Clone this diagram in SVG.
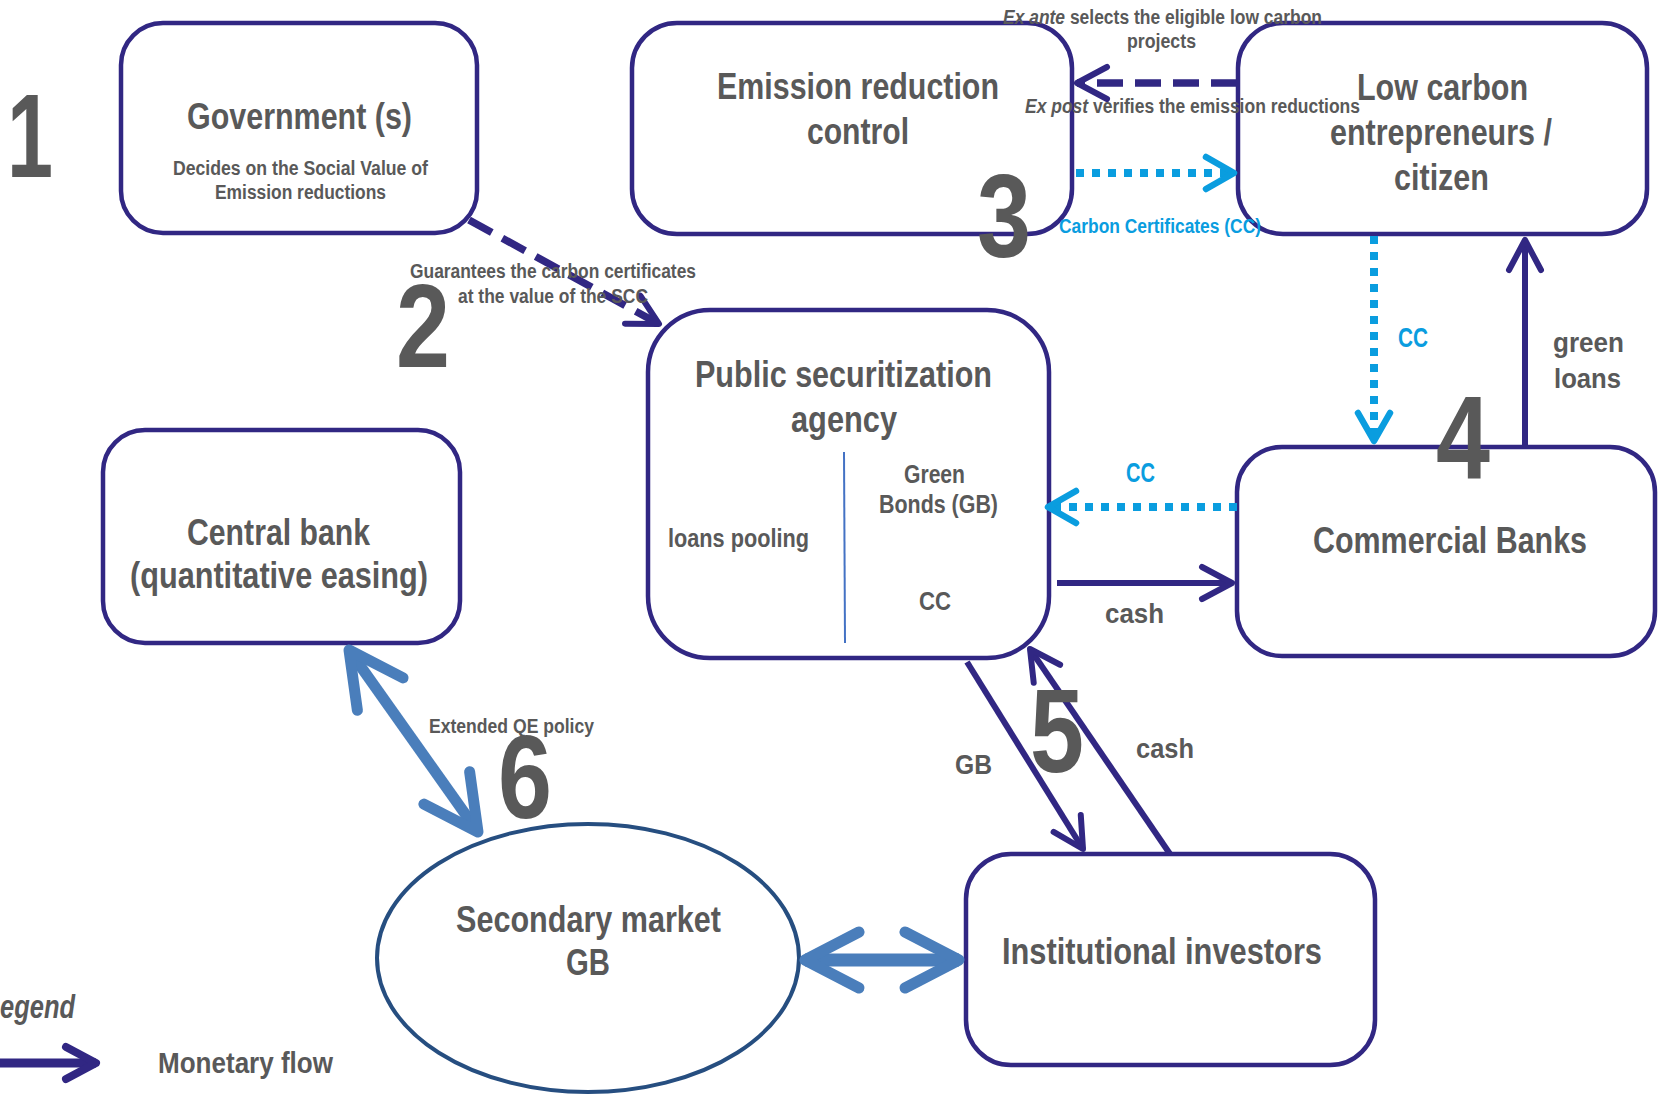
<svg xmlns="http://www.w3.org/2000/svg" width="1658" height="1095" viewBox="0 0 1658 1095">
<style>
.box{fill:#fff;stroke:#312783;stroke-width:4.5}
.t{font-family:'Liberation Sans Narrow','Liberation Sans',Arial,sans-serif;font-weight:bold;fill:#595959}
.h{font-size:36px}
.s{font-size:20px}
.m{font-size:27px}
.b{fill:#0A9DDF}
.num{font-size:119px}
.navy{fill:none;stroke:#312783;stroke-width:6}
.dash{stroke-width:7.5;stroke-dasharray:26 12}
.dot{fill:none;stroke:#0A9DDF;stroke-width:8;stroke-dasharray:8 8}
.steel{fill:none;stroke:#4A7EBB}
</style>
<defs>
<marker id="ahNavy" markerUnits="userSpaceOnUse" viewBox="-40 -25 50 50" markerWidth="50" markerHeight="50" refX="0" refY="0" orient="auto" overflow="visible">
<path d="M-30,-16 L0,0 L-30,16" fill="none" stroke="#312783" stroke-width="6" stroke-linecap="round" stroke-linejoin="round"/>
</marker>
<marker id="ahBlue" markerUnits="userSpaceOnUse" viewBox="-40 -25 50 50" markerWidth="50" markerHeight="50" refX="0" refY="0" orient="auto" overflow="visible">
<path d="M-28,-16 L0,0 L-28,16" fill="none" stroke="#0A9DDF" stroke-width="6.5" stroke-linecap="round" stroke-linejoin="round"/>
</marker>
<marker id="ahSteel" markerUnits="userSpaceOnUse" viewBox="-70 -40 80 80" markerWidth="80" markerHeight="80" refX="0" refY="0" orient="auto-start-reverse" overflow="visible">
<path d="M-54,-28 L0,0 L-54,28" fill="none" stroke="#4A7EBB" stroke-width="11" stroke-linecap="round" stroke-linejoin="round"/>
</marker>
<marker id="ahLegend" markerUnits="userSpaceOnUse" viewBox="-40 -25 50 50" markerWidth="50" markerHeight="50" refX="0" refY="0" orient="auto" overflow="visible">
<path d="M-30,-16 L0,0 L-30,16" fill="none" stroke="#312783" stroke-width="8" stroke-linecap="round" stroke-linejoin="round"/>
</marker>
</defs>

<g id="government">
<rect class="box" x="121" y="23" width="356" height="210" rx="42"/>
<text class="t h" x="187" y="129" textLength="225" lengthAdjust="spacingAndGlyphs">Government (s)</text>
<text class="t s" x="173" y="175" textLength="255" lengthAdjust="spacingAndGlyphs">Decides on the Social Value of</text>
<text class="t s" x="215" y="199" textLength="171" lengthAdjust="spacingAndGlyphs">Emission reductions</text>
</g>

<g id="emission-control">
<rect class="box" x="632" y="23" width="440" height="211" rx="45"/>
<text class="t h" x="717" y="99" textLength="282" lengthAdjust="spacingAndGlyphs">Emission reduction</text>
<text class="t h" x="807" y="144" textLength="102" lengthAdjust="spacingAndGlyphs">control</text>
</g>

<g id="low-carbon">
<rect class="box" x="1238" y="23" width="409" height="211" rx="45"/>
<text class="t h" x="1357" y="100" textLength="171" lengthAdjust="spacingAndGlyphs">Low carbon</text>
<text class="t h" x="1330" y="145" textLength="222" lengthAdjust="spacingAndGlyphs">entrepreneurs /</text>
<text class="t h" x="1394" y="190" textLength="95" lengthAdjust="spacingAndGlyphs">citizen</text>
</g>

<g id="psa">
<rect class="box" x="648" y="310" width="401" height="348" rx="62"/>
<line x1="844" y1="452" x2="845" y2="643" stroke="#4472C4" stroke-width="2"/>
<text class="t h" x="695" y="387" textLength="297" lengthAdjust="spacingAndGlyphs">Public securitization</text>
<text class="t h" x="791" y="432" textLength="106" lengthAdjust="spacingAndGlyphs">agency</text>
<text class="t" font-size="26" x="668" y="547" textLength="141" lengthAdjust="spacingAndGlyphs">loans pooling</text>
<text class="t" font-size="26" x="904" y="483" textLength="61" lengthAdjust="spacingAndGlyphs">Green</text>
<text class="t" font-size="26" x="879" y="513" textLength="119" lengthAdjust="spacingAndGlyphs">Bonds (GB)</text>
<text class="t" font-size="26" x="919" y="610" textLength="32" lengthAdjust="spacingAndGlyphs">CC</text>
</g>

<g id="commercial-banks">
<rect class="box" x="1237" y="447" width="418" height="209" rx="45"/>
<text class="t" font-size="37" x="1313" y="553" textLength="274" lengthAdjust="spacingAndGlyphs">Commercial Banks</text>
</g>

<g id="central-bank">
<rect class="box" x="103" y="430" width="357" height="213" rx="42"/>
<text class="t h" x="187" y="545" textLength="183" lengthAdjust="spacingAndGlyphs">Central bank</text>
<text class="t h" x="130" y="588" textLength="298" lengthAdjust="spacingAndGlyphs">(quantitative easing)</text>
</g>

<g id="secondary-market">
<ellipse cx="588" cy="958" rx="211" ry="134" fill="#fff" stroke="#264E80" stroke-width="4"/>
<text class="t h" x="456" y="932" textLength="265" lengthAdjust="spacingAndGlyphs">Secondary market</text>
<text class="t h" x="566" y="975" textLength="44" lengthAdjust="spacingAndGlyphs">GB</text>
</g>

<g id="institutional-investors">
<rect class="box" x="966" y="854" width="409" height="211" rx="45"/>
<text class="t h" x="1002" y="964" textLength="320" lengthAdjust="spacingAndGlyphs">Institutional investors</text>
</g>

<g id="connectors">
<line class="navy dash" x1="469" y1="220" x2="659" y2="324" marker-end="url(#ahNavy)"/>
<line class="navy dash" x1="1237" y1="83" x2="1077" y2="83" marker-end="url(#ahNavy)"/>
<line class="dot" x1="1076" y1="173" x2="1234" y2="173" marker-end="url(#ahBlue)"/>
<line class="dot" x1="1374" y1="236" x2="1374" y2="441" marker-end="url(#ahBlue)"/>
<line class="navy" x1="1525" y1="447" x2="1525" y2="240" marker-end="url(#ahNavy)"/>
<line class="dot" x1="1237" y1="507" x2="1048" y2="507" marker-end="url(#ahBlue)"/>
<line class="navy" x1="1057" y1="583" x2="1232" y2="583" marker-end="url(#ahNavy)"/>
<line class="navy" x1="967" y1="662" x2="1083" y2="849" marker-end="url(#ahNavy)"/>
<line class="navy" x1="1170" y1="854" x2="1030" y2="649" marker-end="url(#ahNavy)"/>
<line class="steel" stroke-width="11" x1="349" y1="650" x2="478" y2="832" marker-start="url(#ahSteel)" marker-end="url(#ahSteel)"/>
<line class="steel" stroke-width="13" x1="805" y1="960" x2="959" y2="960" marker-start="url(#ahSteel)" marker-end="url(#ahSteel)"/>
</g>

<g id="labels">
<text class="t s" x="410" y="278" textLength="286" lengthAdjust="spacingAndGlyphs">Guarantees the carbon certificates</text>
<text class="t s" x="458" y="303" textLength="190" lengthAdjust="spacingAndGlyphs">at the value of the SCC</text>
<text class="t s" x="1003" y="24" textLength="319" lengthAdjust="spacingAndGlyphs"><tspan font-style="italic">Ex ante</tspan> selects the eligible low carbon</text>
<text class="t s" x="1127" y="48" textLength="69" lengthAdjust="spacingAndGlyphs">projects</text>
<text class="t s" x="1025" y="113" textLength="335" lengthAdjust="spacingAndGlyphs"><tspan font-style="italic">Ex post</tspan> verifies the emission reductions</text>
<text class="t s b" x="1059" y="233" textLength="202" lengthAdjust="spacingAndGlyphs">Carbon Certificates (CC)</text>
<text class="t m b" x="1398" y="347" textLength="30" lengthAdjust="spacingAndGlyphs">CC</text>
<text class="t" font-size="28" x="1553" y="352" textLength="71" lengthAdjust="spacingAndGlyphs">green</text>
<text class="t" font-size="28" x="1554" y="388" textLength="67" lengthAdjust="spacingAndGlyphs">loans</text>
<text class="t m b" x="1126" y="482" textLength="29" lengthAdjust="spacingAndGlyphs">CC</text>
<text class="t" font-size="28" x="1105" y="623" textLength="59" lengthAdjust="spacingAndGlyphs">cash</text>
<text class="t" font-size="28" x="955" y="774" textLength="37" lengthAdjust="spacingAndGlyphs">GB</text>
<text class="t" font-size="28" x="1136" y="758" textLength="58" lengthAdjust="spacingAndGlyphs">cash</text>
<text class="t s" x="429" y="733" textLength="165" lengthAdjust="spacingAndGlyphs">Extended QE policy</text>
</g>

<g id="step-numbers">
<text class="t num" x="7" y="177" textLength="46" lengthAdjust="spacingAndGlyphs">1</text>
<text class="t num" x="396" y="367" textLength="54" lengthAdjust="spacingAndGlyphs">2</text>
<text class="t num" x="977" y="257" textLength="54" lengthAdjust="spacingAndGlyphs">3</text>
<text class="t num" x="1436" y="479" textLength="54" lengthAdjust="spacingAndGlyphs">4</text>
<text class="t num" x="1030" y="772" textLength="54" lengthAdjust="spacingAndGlyphs">5</text>
<text class="t num" x="498" y="818" textLength="54" lengthAdjust="spacingAndGlyphs">6</text>
</g>

<g id="legend">
<text class="t" font-size="34" font-style="italic" x="0" y="1018" textLength="75" lengthAdjust="spacingAndGlyphs">egend</text>
<line x1="-5" y1="1063" x2="96" y2="1063" stroke="#312783" stroke-width="9" marker-end="url(#ahLegend)"/>
<text class="t" font-size="30" x="158" y="1073" textLength="175" lengthAdjust="spacingAndGlyphs">Monetary flow</text>
</g>
</svg>
